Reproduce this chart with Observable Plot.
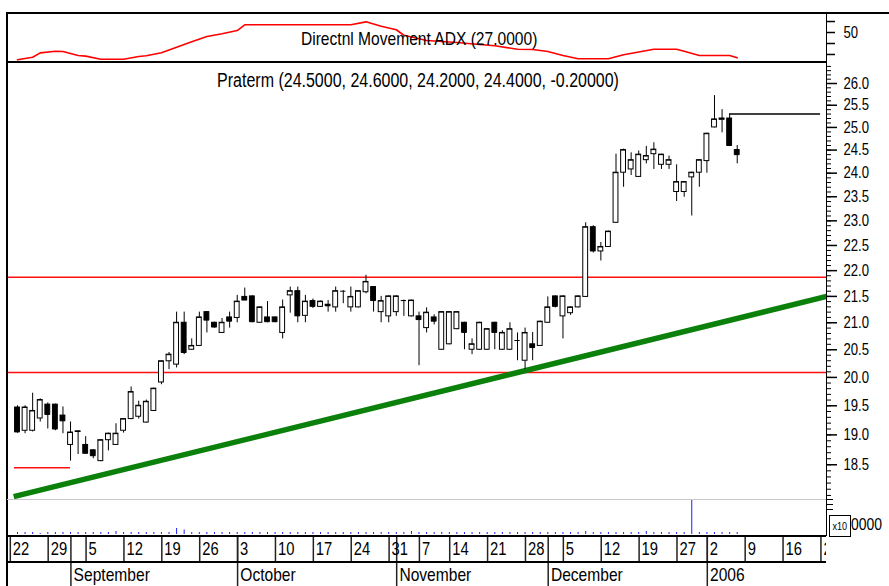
<!DOCTYPE html>
<html><head><meta charset="utf-8">
<script src="https://cdn.jsdelivr.net/npm/d3@7"></script>
<script src="https://cdn.jsdelivr.net/npm/@observablehq/plot@0.6"></script>
<style>
body{margin:0;background:#fff}
#chart{position:relative;width:889px;height:586px;overflow:hidden;background:#fff;font-family:'Liberation Sans',Arial,sans-serif;color:#000}
#chart svg{position:absolute;left:0}
.ln{position:absolute;background:#000}
.sq{display:inline-block;transform:scaleX(0.82)}
</style></head><body><div id="chart"></div>
<script>
// ---- data ----
const openP  = [19.47,19.07,19.07,19.28,19.52,19.52,19.33,18.83,19.05,18.83,18.74,18.56,18.91,18.83,19.07,19.27,19.31,19.21,19.41,19.91,20.29,20.23,21.00,20.50,20.57,21.20,21.00,20.81,21.10,21.09,21.49,21.50,21.00,21.10,21.10,20.81,21.52,21.60,21.13,21.41,21.30,21.34,21.29,21.60,21.29,21.29,21.58,21.68,21.20,21.12,21.20,21.42,21.12,21.12,20.90,21.10,20.50,20.60,20.88,21.00,20.50,20.50,20.50,21.00,20.50,20.50,20.67,20.30,20.60,20.57,21.00,21.50,21.12,21.18,21.29,21.49,22.87,22.38,22.47,22.96,24.01,24.08,23.92,24.28,24.41,24.18,24.18,23.60,23.60,23.91,24.01,24.26,25.00,25.17,25.20,24.50];
const highP  = [19.50,19.50,19.72,19.62,19.55,19.53,19.48,19.22,19.07,18.97,18.75,18.92,19.03,19.19,19.28,19.83,19.58,19.60,19.81,20.30,20.45,21.20,21.20,20.70,21.20,21.21,21.01,21.08,21.20,21.52,21.66,21.51,21.30,21.40,21.11,21.43,21.68,21.68,21.52,21.45,21.41,21.42,21.68,21.61,21.68,21.60,21.91,21.69,21.50,21.51,21.51,21.43,21.43,21.20,21.28,21.15,21.20,21.21,21.21,21.01,20.70,21.01,20.89,21.01,20.85,21.00,20.81,20.90,20.82,21.03,21.49,21.51,21.51,21.30,21.51,22.96,22.90,22.56,22.79,24.41,24.52,24.44,24.48,24.58,24.66,24.41,24.37,24.18,23.82,24.02,24.29,24.87,25.72,25.40,25.30,24.60];
const lowP   = [19.03,19.02,19.05,19.22,19.10,19.07,19.02,18.56,18.67,18.68,18.60,18.55,18.73,18.82,19.03,19.26,19.27,19.20,19.40,19.87,20.14,20.17,20.41,20.49,20.56,20.81,20.90,20.80,20.90,21.00,21.43,21.00,20.99,21.00,21.00,20.70,21.18,21.00,21.00,21.27,21.29,21.20,21.20,21.36,21.20,21.28,21.55,21.20,21.00,21.00,21.12,21.12,21.11,20.21,20.81,20.96,20.49,20.59,20.87,20.50,20.41,20.49,20.49,20.50,20.49,20.49,20.30,20.14,20.30,20.56,20.99,21.28,20.70,21.14,21.28,21.48,22.35,22.19,22.46,22.95,23.70,23.95,23.91,24.20,24.08,24.08,24.08,23.40,23.49,23.10,23.70,24.00,24.99,24.88,24.60,24.20];
const closeP = [19.05,19.47,19.41,19.60,19.35,19.10,19.24,19.04,19.06,18.69,18.65,18.91,19.02,19.02,19.27,19.74,19.50,19.57,19.80,20.29,20.41,21.00,20.45,20.57,21.10,21.05,20.92,21.00,21.03,21.40,21.43,21.02,21.29,21.02,21.02,21.29,21.60,21.13,21.40,21.31,21.40,21.32,21.60,21.60,21.49,21.60,21.78,21.42,21.41,21.50,21.50,21.42,21.42,21.06,21.19,21.03,21.20,21.20,21.20,20.82,20.60,21.00,20.88,20.82,20.81,20.88,20.67,20.81,20.54,21.02,21.29,21.31,21.50,21.29,21.50,22.87,22.39,22.47,22.78,24.01,24.50,24.28,24.40,24.37,24.51,24.40,24.28,23.81,23.81,24.01,24.28,24.86,25.18,25.20,24.60,24.40];
const volume = [2,2,2,1,2, 2,2,2,2,2, 2,2,2,3,2, 2,2,2,2,2, 2,6,4.5,2,2, 2,2,2,2,2, 2,2,2,2,2, 2,2,2,2,2, 2,2,2,2,2, 2,2,2,2,2, 2,2,3,2,2, 2,2,2,2,2, 2,2,2,2,2, 2,2,2,2,2, 2,2,2,2,2, 3,2,2,2,2, 2,2,2,3,2, 2,2,2,2,34, 2,2,2,2,2, 2];
const adxIdx = [0,2,3,5,6,8,9,11,14,16,17,19,21,23,25,27,29,30,44,46,48,50,51,54,58,61,63,66,68,70,72,74,78,80,84,87,88,90,94,95];
const adxVal = [25.2,27.5,31.5,33,32.7,29.1,28.5,25.7,25.7,28.2,28.8,31.5,36.6,41.5,46.4,48.8,51.8,57,57,59.7,55.7,52.5,47.5,42.7,40.9,39.1,37.9,34.8,34.5,32.7,29.1,26.1,26.1,29.7,34.8,34.8,33,29.1,29.1,27.0];
const channelLevels = [21.87, 20.09];
const earlySupport = [{level: 18.45, from: -0.4, to: 7}];
const lastHighLine = [{level: 25.3, from: 94, to: 106}];
const trendIdx = [-0.5, 106.8];
const trendVal = [17.98, 21.5];
const priceTicks = [18.5,19.0,19.5,20.0,20.5,21.0,21.5,22.0,22.5,23.0,23.5,24.0,24.5,25.0,25.5,26.0];
const adxTicks = [30, 40, 50, 60];
const volTicks = [25, 30, 35];
const weekLabels = ["22","29","5","12","19","26","3","10","17","24","31","7","14","21","28","5","12","19","27","2","9","16","23"];
const weekStart  = [0,5,10,15,20,25,30,35,40,45,50,54,58,63,68,73,78,83,88,92,97,102,107];
const monthLabels = ["September","October","November","December","2006"];
const monthStart  = [8,30,51,71,92];
const titleText = "Praterm (24.5000, 24.6000, 24.2000, 24.4000, -0.20000)";
const adxTitle = "Directnl Movement ADX (27.0000)";

// ---- layout ----
const W = 889, X_LEFT = 7, X_RIGHT = 826, X0 = 17, STEP = 7.576, SEP = 0.95, SQ = 0.82;
const FONT = "'Liberation Sans',Arial,sans-serif";
const xDomain = [(X_LEFT - X0) / STEP, (X_RIGHT - X0) / STEP];
const chart = document.getElementById("chart");

const candles = openP.map((o, i) => ({i, open: o, high: highP[i], low: lowP[i], close: closeP[i]}));
const adx = adxIdx.map((i, k) => ({i, v: adxVal[k]}));
const trend = trendIdx.map((i, k) => ({i, v: trendVal[k]}));
const vols = volume.map((v, i) => ({i, v}));
const weeks = weekStart.map((i, k) => ({i, label: weekLabels[k]}));
const months = monthStart.map((i, k) => ({i, label: monthLabels[k]}));

function squeeze(svg) {
  svg.querySelectorAll("text").forEach(t => {
    const len = t.getComputedTextLength();
    if (len > 0) {
      t.setAttribute("textLength", (len * SQ).toFixed(2));
      t.setAttribute("lengthAdjust", "spacingAndGlyphs");
    }
  });
}

function panel(top, height, opts) {
  const svg = Plot.plot({
    width: W, height,
    marginLeft: X_LEFT, marginRight: W - X_RIGHT, marginTop: 0, marginBottom: 0,
    x: {domain: xDomain, axis: null},
    style: {background: "transparent", fontFamily: FONT, overflow: "visible"},
    ...opts
  });
  svg.style.top = top + "px";
  chart.appendChild(svg);
  squeeze(svg);
}

// ADX panel
panel(0, 63, {
  marginTop: 13, marginBottom: 1,
  y: {domain: [22.7, 67.3]},
  marks: [
    Plot.line(adx, {x: "i", y: "v", stroke: "#ff0000", strokeWidth: 1.6}),
    Plot.axisY(adxTicks, {anchor: "right", tickSize: 8, tickPadding: 9, strokeWidth: 1.5,
      tickFormat: d => d === 50 ? "50" : "", fontSize: 16, label: null})
  ]
});

// price panel
panel(62, 437, {
  y: {type: "log", domain: [17.935, 26.492]},
  marks: [
    Plot.ruleY(channelLevels, {stroke: "#ff1010", strokeWidth: 1.5}),
    Plot.ruleY(earlySupport, {y: "level", x1: "from", x2: "to", stroke: "#ff1010", strokeWidth: 1.5}),
    Plot.line(trend, {x: "i", y: "v", stroke: "#0b800b", strokeWidth: 5.5, strokeLinecap: "butt"}),
    Plot.ruleX(candles, {x: "i", y1: "low", y2: "high", stroke: "#000", strokeWidth: 1}),
    Plot.rect(candles.filter(d => d.close >= d.open), {x1: d => d.i - 0.32, x2: d => d.i + 0.32, y1: "open", y2: "close", fill: "#fff", stroke: "#000", strokeWidth: 1}),
    Plot.rect(candles.filter(d => d.close < d.open), {x1: d => d.i - 0.32, x2: d => d.i + 0.32, y1: "open", y2: "close", fill: "#000", stroke: "#000", strokeWidth: 1}),
    Plot.ruleY(candles, {y: "close", x1: d => d.i - 0.35, x2: d => d.i + 0.35, stroke: "#000", strokeWidth: 1}),
    Plot.ruleY(lastHighLine, {y: "level", x1: "from", x2: "to", stroke: "#000", strokeWidth: 1.5}),
    Plot.axisY(d3.range(180, 265).map(d => d / 10), {anchor: "right", tickSize: 4, tickFormat: () => "", label: null}),
    Plot.axisY(priceTicks, {anchor: "right", tickSize: 10, tickPadding: 7, strokeWidth: 1.5,
      tickFormat: d3.format(".1f"), fontSize: 16, label: null})
  ]
});

// volume panel
panel(499, 35, {
  y: {domain: [0, 35]},
  marks: [
    Plot.ruleX(vols, {x: "i", y1: 0, y2: "v", stroke: "#2020ff", strokeWidth: 1}),
    Plot.axisY(volTicks, {anchor: "right", tickSize: 6, tickFormat: () => "", label: null})
  ]
});

// date row
panel(536, 26, {
  marks: [
    Plot.ruleX(weeks, {x: d => d.i - SEP, stroke: "#222", strokeWidth: 1.5}),
    Plot.ruleX(months, {x: d => d.i - SEP, stroke: "#222", strokeWidth: 1.5}),
    Plot.text(weeks, {x: d => d.i - SEP, text: "label", frameAnchor: "middle", textAnchor: "start",
      dx: 2.5, fontSize: 18, fill: "#000", clip: true})
  ]
});

// month row
panel(562, 24, {
  marks: [
    Plot.ruleX(months, {x: d => d.i - SEP, stroke: "#222", strokeWidth: 1.5}),
    Plot.text(months, {x: d => d.i - SEP, text: "label", frameAnchor: "middle", textAnchor: "start",
      dx: 2.7, fontSize: 19, fill: "#000"})
  ]
});

// frame lines and texts
function line(l, t, w, h, c) {
  const d = document.createElement("div");
  d.className = "ln";
  Object.assign(d.style, {left: l + "px", top: t + "px", width: w + "px", height: h + "px"});
  if (c) d.style.background = c;
  chart.appendChild(d);
}
line(7, 12, 882, 2);
line(6, 12, 2, 574);
line(7, 61, 819, 2);
line(825.5, 13, 1.2, 523);
line(7, 498.5, 819, 1.5, "#c8c8c8");
line(7, 535, 819, 2);
line(7, 561, 819, 2);

function text(str, l, t, w, size, align, extra) {
  const d = document.createElement("div");
  Object.assign(d.style, {position: "absolute", left: l + "px", top: t + "px", width: w + "px",
    textAlign: align, fontSize: size + "px", lineHeight: size + "px", whiteSpace: "nowrap"}, extra || {});
  const s = document.createElement("span");
  s.className = "sq";
  s.textContent = str;
  if (align === "left") s.style.transformOrigin = "left center";
  d.appendChild(s);
  chart.appendChild(d);
  return d;
}
text(adxTitle, 0, 28.5, 838, 19, "center");
text(titleText, 0, 70.5, 836, 19.5, "center");
text("x10", 829, 515, 20, 11, "center", {border: "1.5px solid #000", height: "20px", lineHeight: "20px", background: "#fff"});
text("0000", 851, 516, 38, 17, "left");
</script></body></html>
